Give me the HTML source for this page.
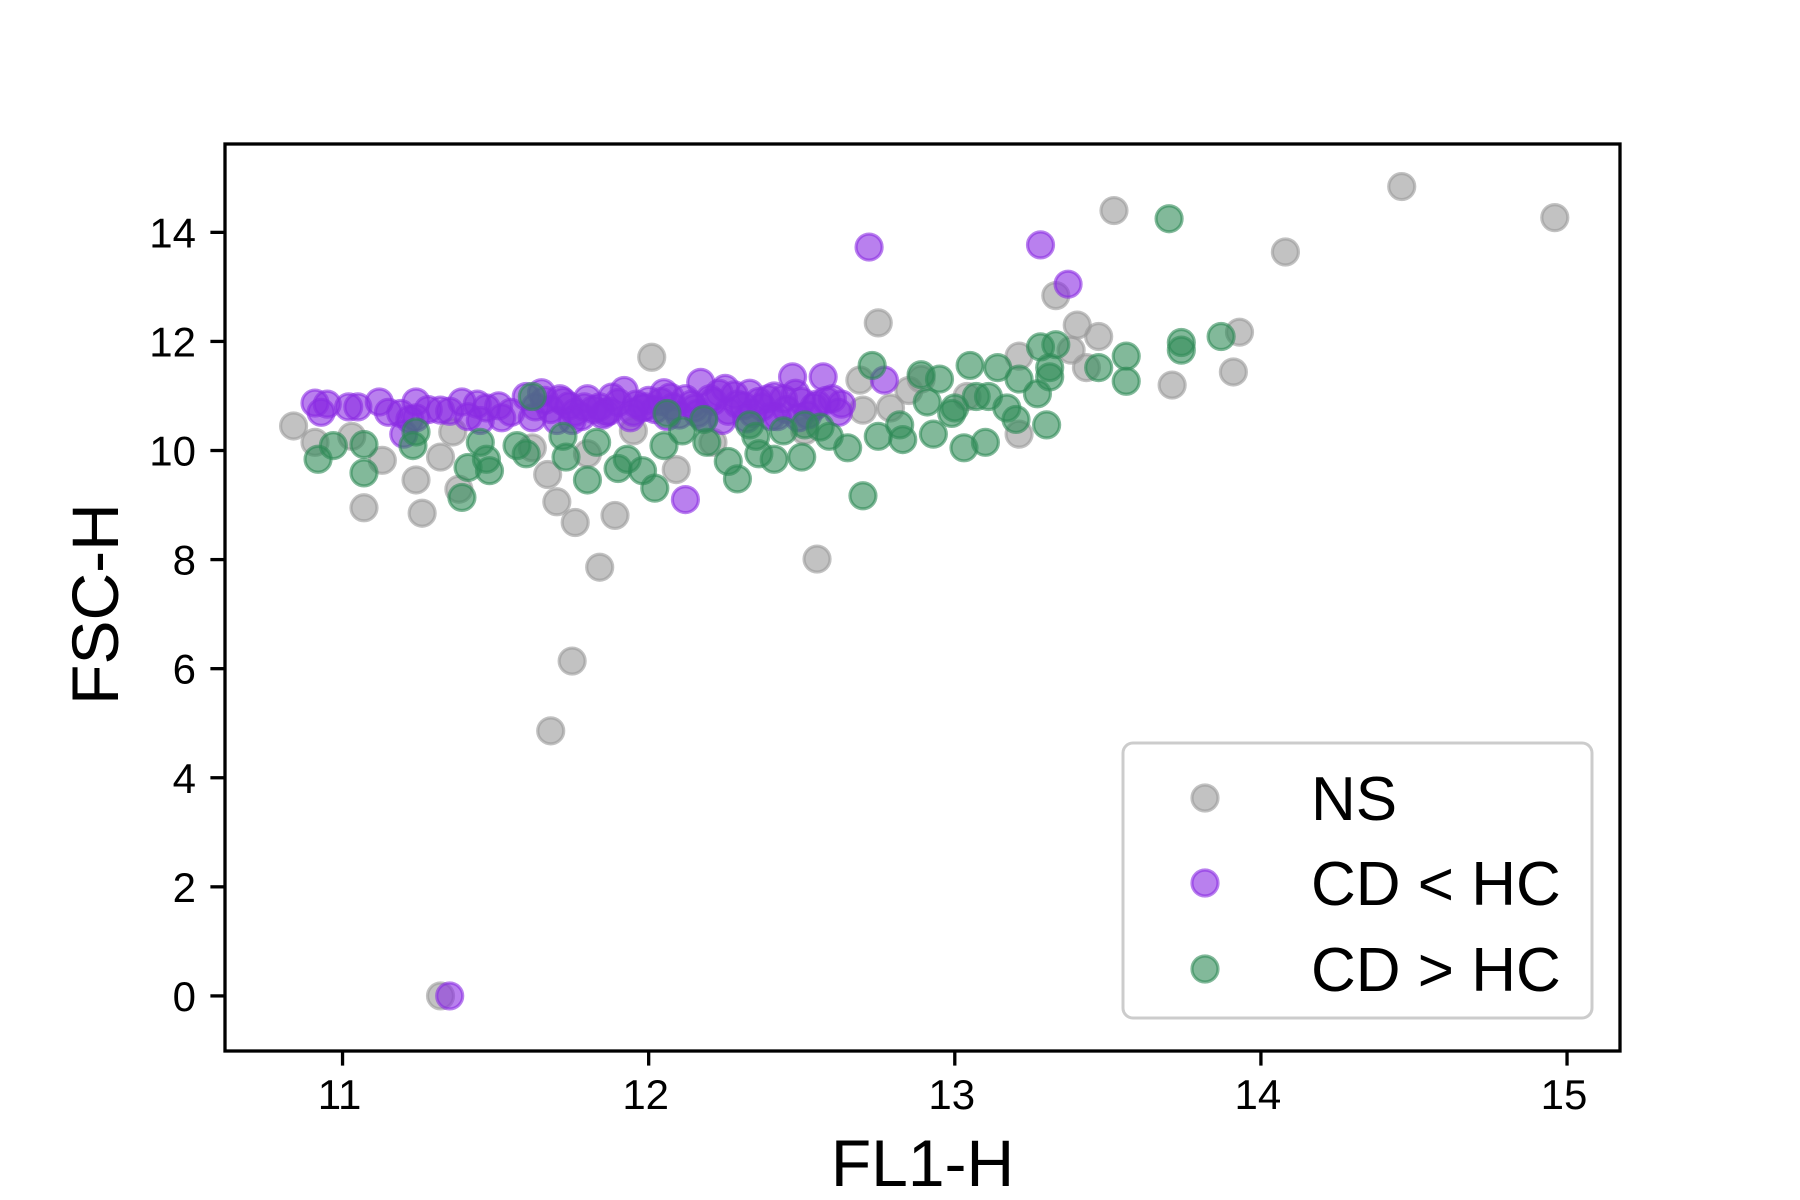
<!DOCTYPE html>
<html><head><meta charset="utf-8"><style>
html,body{margin:0;padding:0;background:#fff;}
svg{display:block;font-family:"Liberation Sans","DejaVu Sans",sans-serif;}
</style></head><body>
<svg id="chart" width="1800" height="1200" viewBox="0 0 1800 1200">
<rect width="1800" height="1200" fill="#fff"/>
<g id="marks"></g>
<g id="axes"></g>
<g id="legend"></g>
</svg>
<script>
const xTicks = [11, 12, 13, 14, 15];
const yTicks = [0, 2, 4, 6, 8, 10, 12, 14];
const nsX = [10.84,11.07,11.26,11.24,11.32,11.13,11.36,11.38,11.03,10.91,11.68,11.75,11.76,11.84,11.89,11.70,11.67,12.01,12.09,12.55,12.75,12.69,12.70,12.79,12.85,12.89,13.21,13.21,13.33,13.40,13.47,13.38,13.52,13.71,13.91,13.93,14.08,14.46,14.96,11.32,11.62,11.95,12.21,12.51,13.04,11.80,13.43];
const nsY = [10.45,8.95,8.85,9.46,9.88,9.82,10.34,9.29,10.26,10.15,4.86,6.14,8.68,7.86,8.81,9.06,9.56,11.71,9.65,8.01,12.34,11.29,10.74,10.78,11.10,11.31,11.73,10.30,12.84,12.30,12.09,11.84,14.40,11.20,11.44,12.17,13.64,14.84,14.27,0.0,10.05,10.36,10.15,10.36,10.99,9.94,11.52];
const cdLtX = [10.91,10.93,11.02,11.12,11.19,11.24,11.22,11.20,11.32,11.39,11.41,11.47,11.51,11.60,11.65,11.68,11.72,11.76,11.80,11.84,11.88,11.92,11.96,12.00,12.05,12.08,12.12,12.17,12.21,12.25,12.29,12.33,12.37,12.41,12.45,12.47,12.50,12.54,12.57,12.60,12.63,11.70,11.78,11.86,11.94,12.02,12.10,12.18,12.26,12.34,12.42,12.52,12.72,13.28,13.37,12.77,12.12,11.35,
  10.95,11.05,11.15,11.28,11.35,11.44,11.55,11.63,11.66,11.74,11.82,11.90,11.98,12.04,12.14,12.20,12.28,12.36,12.44,12.55,12.62,11.71,11.79,11.87,11.99,12.07,12.15,12.23,12.31,12.39,12.48,12.58,11.24,11.45,11.52,11.62,11.75,11.85,11.95,12.06,12.16,12.24,12.32,12.40,12.49];
const cdLtY = [10.87,10.70,10.80,10.89,10.68,10.89,10.57,10.30,10.74,10.89,10.62,10.78,10.82,10.99,11.06,10.75,10.90,10.70,10.95,10.80,10.98,11.10,10.85,10.92,11.06,10.80,10.95,11.25,10.90,11.14,10.85,11.05,10.80,11.00,10.75,11.35,10.90,10.80,11.35,10.95,10.85,10.55,10.62,10.70,10.60,10.75,10.65,10.60,10.72,10.68,10.62,10.65,13.73,13.77,13.05,11.29,9.10,0.0,
  10.85,10.80,10.70,10.75,10.72,10.85,10.70,10.80,10.92,10.82,10.75,10.88,10.78,10.90,10.85,10.95,11.02,10.90,10.95,10.85,10.70,10.95,10.80,10.72,10.80,10.98,10.78,11.05,10.82,10.95,11.05,10.92,10.60,10.55,10.60,10.60,10.55,10.65,10.70,10.62,10.68,10.55,10.58,10.62,10.60];
const cdGtX = [10.92,10.97,11.07,11.07,11.23,11.24,11.39,11.41,11.45,11.47,11.48,11.57,11.60,11.62,11.72,11.73,11.80,11.83,11.90,11.93,11.98,12.02,12.05,12.06,12.11,12.18,12.19,12.26,12.29,12.33,12.35,12.36,12.41,12.44,12.50,12.51,12.56,12.59,12.65,12.70,12.73,12.75,12.82,12.83,12.89,12.91,12.93,12.95,12.99,13.00,13.03,13.05,13.07,13.10,13.11,13.14,13.17,13.20,13.21,13.27,13.28,13.30,13.31,13.31,13.33,13.47,13.56,13.56,13.70,13.74,13.74,13.87];
const cdGtY = [9.84,10.09,9.59,10.11,10.09,10.34,9.14,9.69,10.15,9.84,9.63,10.09,9.94,10.99,10.26,9.88,9.46,10.15,9.67,9.84,9.63,9.31,10.09,10.68,10.36,10.57,10.15,9.80,9.48,10.47,10.26,9.94,9.84,10.36,9.88,10.47,10.43,10.26,10.05,9.17,11.56,10.26,10.47,10.20,11.39,10.89,10.30,11.31,10.68,10.78,10.05,11.56,10.99,10.15,10.99,11.52,10.78,10.57,11.31,11.04,11.90,10.47,11.52,11.35,11.94,11.52,11.73,11.27,14.25,11.84,11.98,12.09];

const L = 225, R = 1620, T = 144, B = 1051;
const xMin = 10.616, xMax = 15.173, yMin = -1.01, yMax = 15.62;
function sx(v){ return L + (v - xMin) / (xMax - xMin) * (R - L); }
function sy(v){ return B - (v - yMin) / (yMax - yMin) * (B - T); }
const NS = "http://www.w3.org/2000/svg";
function mk(tag, attrs, parent){
  const e = document.createElementNS(NS, tag);
  for (const k in attrs) e.setAttribute(k, attrs[k]);
  parent.appendChild(e); return e;
}
const marks = document.getElementById('marks');
function series(xs, ys, color, name){
  const g = mk('g', {}, marks);
  
  
  for (let i = 0; i < xs.length; i++){
    const c = mk('circle', {cx: sx(xs[i]), cy: sy(ys[i]), r: 13, fill: color, 'fill-opacity': 0.6, stroke: color, 'stroke-opacity': 0.6, 'stroke-width': 3.2}, g);
    
    
  }
}
series(nsX, nsY, '#999999', 'ns');
series(cdLtX, cdLtY, '#8a2be2', 'cd-lt-hc');
series(cdGtX, cdGtY, '#2e8b57', 'cd-gt-hc');

const axes = document.getElementById('axes');
const frame = mk('rect', {x: L, y: T, width: R - L, height: B - T, fill: 'none', stroke: '#000', 'stroke-width': 3.3}, axes);


xTicks.forEach(v => {
  const x = sx(v);
  const t = mk('line', {x1: x, x2: x, y1: B, y2: B + 14.6, stroke: '#000', 'stroke-width': 3.3}, axes);
  
  
  const lb = mk('text', {x: x - 3, y: B + 58, 'font-size': 42, 'text-anchor': 'middle', fill: '#000'}, axes);
  lb.textContent = v;
  
  
});
yTicks.forEach(v => {
  const y = sy(v);
  const t = mk('line', {x1: L - 14.6, x2: L, y1: y, y2: y, stroke: '#000', 'stroke-width': 3.3}, axes);
  
  
  const lb = mk('text', {x: L - 29, y: y + 15, 'font-size': 42, 'text-anchor': 'end', fill: '#000'}, axes);
  lb.textContent = v;
  
  
});
const xt = mk('text', {x: (L + R) / 2, y: 1186, 'font-size': 66, 'text-anchor': 'middle', fill: '#000'}, axes);
xt.textContent = 'FL1-H';


const yt = mk('text', {x: 0, y: 0, 'font-size': 66, 'text-anchor': 'middle', fill: '#000', transform: 'translate(118,604) rotate(-90)'}, axes);
yt.textContent = 'FSC-H';



const leg = document.getElementById('legend');
const box = mk('rect', {x: 1123, y: 743, width: 469, height: 275, rx: 10, fill: '#fff', 'fill-opacity': 0.8, stroke: '#cccccc', 'stroke-width': 3}, leg);


const legLabels = ['NS', 'CD < HC', 'CD > HC'];
const legColors = ['#999999', '#8a2be2', '#2e8b57'];
const legY = [798, 883, 969];
legLabels.forEach((s, i) => {
  const c = mk('circle', {cx: 1205, cy: legY[i], r: 13, fill: legColors[i], 'fill-opacity': 0.6, stroke: legColors[i], 'stroke-opacity': 0.6, 'stroke-width': 3.2}, leg);
  
  
  const t = mk('text', {x: 1311, y: legY[i] + 22, 'font-size': 62, fill: '#000'}, leg);
  t.textContent = s;
  
  
});
</script>
</body></html>
